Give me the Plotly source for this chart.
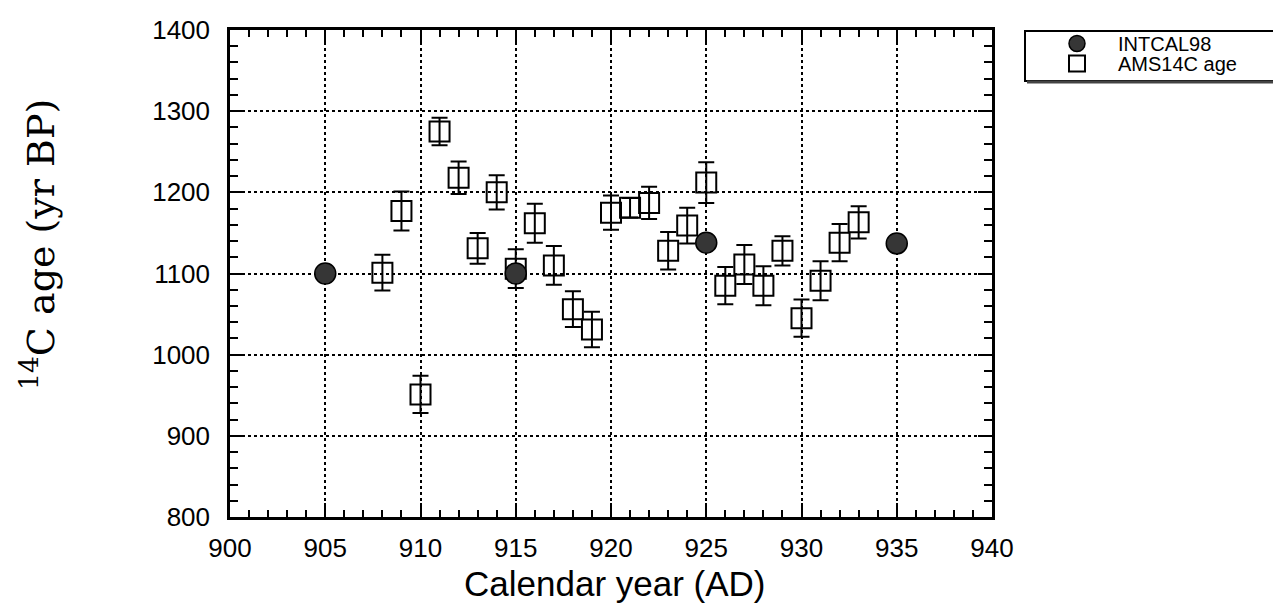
import plotly.graph_objects as go

# ---- data ----
ams_year = [908, 909, 910, 911, 912, 913, 914, 915, 916, 917, 918, 919, 920,
            921, 922, 923, 924, 925, 926, 927, 928, 929, 930, 931, 932, 933]
ams_age = [1101, 1177, 951, 1275, 1218, 1131, 1200, 1106, 1162, 1110, 1056, 1031, 1175,
           1181, 1187, 1128, 1159, 1212, 1085, 1111, 1085, 1128, 1045, 1091, 1138, 1163]
ams_err = [22, 24, 23, 17, 20, 19, 21, 24, 24, 24, 22, 22, 21,
           12, 20, 23, 22, 25, 23, 24, 24, 18, 23, 24, 23, 20]

intcal_year = [905, 915, 925, 935]
intcal_age = [1100, 1100, 1138, 1137]

x_range = [900, 940]
y_range = [800, 1400]
x_ticks = [900, 905, 910, 915, 920, 925, 930, 935, 940]
y_ticks = [800, 900, 1000, 1100, 1200, 1300, 1400]

SANS = "Liberation Sans, Arial, Helvetica, sans-serif"
SERIF = "DejaVu Serif, serif"

L, R, T, B = 230, 281, 30, 87
W, H = 1273, 604
pw, ph = W - L - R, H - T - B


def px_x(px):
    return (px - L) / pw


def px_y(py):
    return (H - B - py) / ph


fig = go.Figure()

fig.add_trace(go.Scatter(
    x=ams_year, y=ams_age, mode="markers", name="AMS14C age",
    legend="legend2",
    marker=dict(symbol="square-open", size=20, color="black", line=dict(width=2, color="black")),
    error_y=dict(type="data", array=ams_err, visible=True, color="black", thickness=2, width=8),
))

fig.add_trace(go.Scatter(
    x=intcal_year, y=intcal_age, mode="markers", name="INTCAL98",
    legend="legend",
    marker=dict(symbol="circle", size=21, color="#363636", line=dict(width=1.5, color="black")),
))

axis_common = dict(
    showline=True, linecolor="black", linewidth=2.5, mirror="ticks",
    ticks="inside", tickcolor="black", tickwidth=2,
    showgrid=True, gridcolor="black", gridwidth=2, griddash="dot",
    zeroline=False,
    tickfont=dict(family=SANS, size=26, color="black"),
)

fig.update_xaxes(
    range=x_range, tickvals=x_ticks, ticklen=14, ticklabelstandoff=6,
    minor=dict(dtick=1, ticks="inside", ticklen=7, tickwidth=2, tickcolor="black", showgrid=False),
    **axis_common,
)
fig.update_yaxes(
    range=y_range, tickvals=y_ticks, ticklen=14, ticklabelstandoff=12,
    minor=dict(dtick=20, ticks="inside", ticklen=8, tickwidth=2, tickcolor="black", showgrid=False),
    **axis_common,
)

# legend frame with shadow
fig.add_shape(type="rect", xref="paper", yref="paper",
              x0=px_x(1025), x1=px_x(1290), y0=px_y(81), y1=px_y(31),
              line=dict(color="black", width=2), fillcolor="white", layer="below")
fig.add_shape(type="line", xref="paper", yref="paper",
              x0=px_x(1027), x1=px_x(1290), y0=px_y(82), y1=px_y(82),
              line=dict(color="#444444", width=3))

legend_common = dict(
    xanchor="left", yanchor="top",
    bgcolor="rgba(0,0,0,0)", borderwidth=0,
    font=dict(family=SANS, size=20, color="black"),
    itemwidth=72, itemsizing="trace",
)

fig.update_layout(
    width=W, height=H,
    margin=dict(l=L, r=R, t=T, b=B),
    paper_bgcolor="white", plot_bgcolor="white",
    showlegend=True,
    legend=dict(x=px_x(1036), y=px_y(24), **legend_common),
    legend2=dict(x=px_x(1036), y=px_y(44), **legend_common),
    annotations=[
        dict(text="Calendar year (AD)", xref="paper", yref="paper",
             x=px_x(615), y=px_y(583), xanchor="center", yanchor="middle",
             showarrow=False, font=dict(family=SANS, size=35, color="black")),
        dict(text="<sup>14</sup>C age (yr BP)", xref="paper", yref="paper",
             x=px_x(38), y=px_y(245), xanchor="center", yanchor="middle",
             textangle=-90, showarrow=False,
             font=dict(family=SERIF, size=38, color="black")),
    ],
)

fig.write_html("out.html", config={"displayModeBar": False},
               post_script="document.body.style.margin='0px';document.body.style.padding='0px';")
